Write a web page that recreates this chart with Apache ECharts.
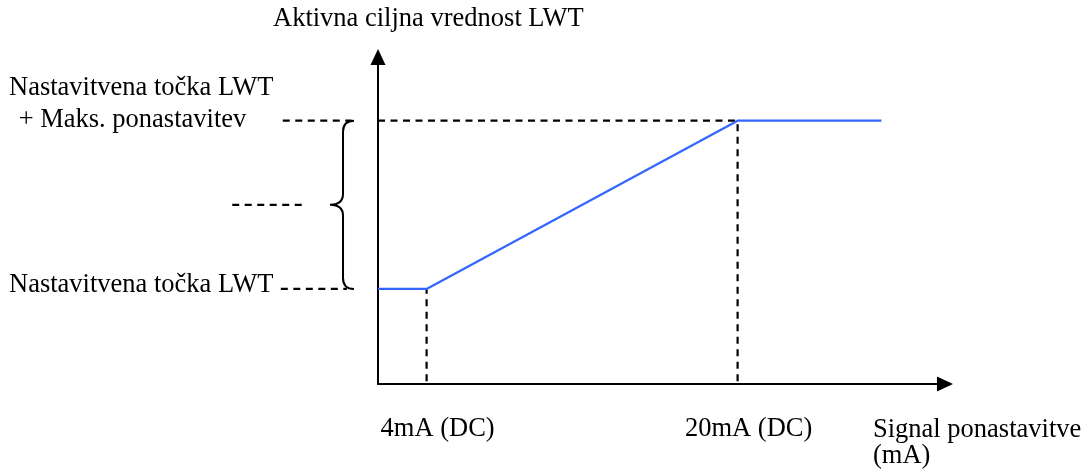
<!DOCTYPE html>
<html>
<head>
<meta charset="utf-8">
<script src="https://cdn.jsdelivr.net/npm/echarts@6/dist/echarts.min.js"></script>
<style>
  html, body { margin: 0; padding: 0; background: #fff; }
  #chart { width: 1086px; height: 475px; }
</style>
</head>
<body>
<div id="chart"></div>
<script>
// ---- data (schematic units: x in mA, y arbitrary) ----
var signalX = [1.5, 4, 20, 27.4];          // reset signal (mA)
var targetY = [10, 10, 27.7, 27.7];        // active LWT target
var xTickValues = [4, 20];
var xTickLabels = ['4mA (DC)', '20mA (DC)'];
var yAxisTitle = 'Aktivna ciljna vrednost LWT';
var xAxisTitle = ['Signal ponastavitve', '(mA)'];
var setPointLabel = 'Nastavitvena točka LWT';
var maxLabel = ['Nastavitvena točka LWT', ' + Maks. ponastavitev'];
// dashed guide segments [x1, y1, x2, y2]
var guideSegments = [
  [4, 0.3, 4, 10],
  [20, 0.3, 20, 27.7],
  [1.5, 27.7, 20, 27.7],
  [-3.4, 27.7, 0.15, 27.7],
  [-3.5, 10, -0.1, 10],
  [-6.0, 18.85, -2.2, 18.85]
];
var braceData = [[-0.3, 27.7, 10]];  // brace x, top y, bottom y

var FONT = "'Liberation Serif', 'Times New Roman', serif";
var FS = 26.5;

var chart = echarts.init(document.getElementById('chart'), null, { renderer: 'canvas' });

var series = [];
series.push({
  type: 'custom',
  clip: false,
  silent: true,
  z: 1,
  data: guideSegments,
  renderItem: function (params, api) {
    var p1 = api.coord([api.value(0), api.value(1)]);
    var p2 = api.coord([api.value(2), api.value(3)]);
    return {
      type: 'line',
      shape: { x1: p1[0], y1: p1[1], x2: p2[0], y2: p2[1] },
      style: { stroke: '#000', lineWidth: 2.2, lineDash: [7, 5.5] }
    };
  }
});
series.push({
  type: 'line',
  data: signalX.map(function (x, i) { return [x, targetY[i]]; }),
  symbol: 'none',
  clip: false,
  z: 5,
  lineStyle: { color: '#3366ff', width: 2.2 }
});
series.push({
  type: 'custom',
  clip: false,
  silent: true,
  data: braceData,
  renderItem: function (params, api) {
    var top = api.coord([api.value(0), api.value(1)]);
    var bot = api.coord([api.value(0), api.value(2)]);
    var x = top[0], yT = top[1], yB = bot[1];
    var yM = (yT + yB) / 2;
    var r = 11, tip = 13;
    var d = 'M ' + (x + r) + ' ' + yT +
      ' Q ' + x + ' ' + yT + ' ' + x + ' ' + (yT + r) +
      ' L ' + x + ' ' + (yM - r) +
      ' Q ' + x + ' ' + yM + ' ' + (x - tip) + ' ' + yM +
      ' Q ' + x + ' ' + yM + ' ' + x + ' ' + (yM + r) +
      ' L ' + x + ' ' + (yB - r) +
      ' Q ' + x + ' ' + yB + ' ' + (x + r) + ' ' + yB;
    return {
      type: 'path',
      shape: { pathData: d },
      style: { stroke: '#000', fill: null, lineWidth: 2 }
    };
  }
});

function txt(t, left, y) {
  return {
    type: 'text',
    left: left,
    top: y,
    style: { text: t, font: FS + 'px ' + FONT, fill: '#000' }
  };
}

chart.setOption({
  animation: false,
  backgroundColor: '#fff',
  grid: { left: 378, right: 141, top: 57, bottom: 91, containLabel: false },
  xAxis: {
    type: 'value',
    min: 1.5,
    max: 30.67,
    splitLine: { show: false },
    axisTick: { show: false },
    axisLine: {
      onZero: false,
      symbol: ['none', 'triangle'],
      symbolSize: [15, 16],
      lineStyle: { color: '#000', width: 2 }
    },
    axisLabel: {
      customValues: xTickValues,
      formatter: function (v) {
        var i = xTickValues.indexOf(v);
        return i >= 0 ? xTickLabels[i] : '';
      },
      margin: 32,
      padding: [0, 0, 0, 22],
      color: '#000',
      fontFamily: FONT,
      fontSize: FS
    }
  },
  yAxis: {
    type: 'value',
    min: 0,
    max: 34.4,
    splitLine: { show: false },
    axisTick: { show: false },
    axisLabel: { show: false },
    axisLine: {
      onZero: false,
      symbol: ['none', 'triangle'],
      symbolSize: [15, 16],
      lineStyle: { color: '#000', width: 2 }
    }
  },
  graphic: [
    txt(yAxisTitle, 273, 6),
    txt(maxLabel[0], 9, 75),
    txt(maxLabel[1], 12, 107),
    txt(setPointLabel, 9, 272),
    txt(xAxisTitle[0], 873, 417),
    txt(xAxisTitle[1], 873, 443)
  ],
  series: series
});
</script>
</body>
</html>
